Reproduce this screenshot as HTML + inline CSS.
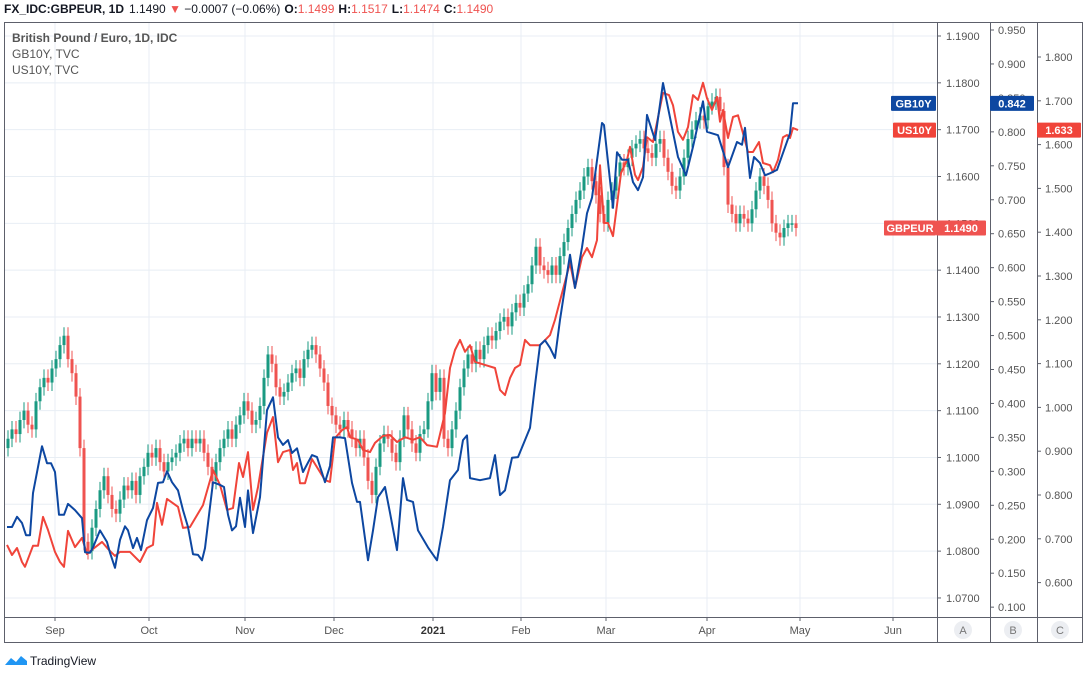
<!DOCTYPE html>
<html><head><meta charset="utf-8"><style>
body{margin:0;background:#fff;font-family:"Liberation Sans",sans-serif;}
svg text{font-family:"Liberation Sans",sans-serif;}
</style></head><body>
<svg id="c" width="1085" height="671" viewBox="0 0 1085 671" xmlns="http://www.w3.org/2000/svg">
<rect x="0" y="0" width="1085" height="671" fill="#fff"/>
<text x="4" y="13" font-size="12" fill="#131722"><tspan font-weight="bold">FX_IDC:GBPEUR, 1D</tspan><tspan dx="5">1.1490</tspan><tspan fill="#ef5350"> ▼ </tspan><tspan>−0.0007 (−0.06%)</tspan><tspan font-weight="bold" dx="4">O:</tspan><tspan fill="#ef5350">1.1499</tspan><tspan font-weight="bold" dx="4">H:</tspan><tspan fill="#ef5350">1.1517</tspan><tspan font-weight="bold" dx="4">L:</tspan><tspan fill="#ef5350">1.1474</tspan><tspan font-weight="bold" dx="4">C:</tspan><tspan fill="#ef5350">1.1490</tspan></text>
<g id="grid"></g>
<g id="marks"></g>
<g id="axes"></g>
<text x="12" y="42" font-size="12" font-weight="bold" fill="#555">British Pound / Euro, 1D, IDC</text>
<text x="12" y="58" font-size="12" fill="#555">GB10Y, TVC</text>
<text x="12" y="74" font-size="12" fill="#555">US10Y, TVC</text>
<g>
<path d="M5 665 l6 -7 l5 4 l5 -6 l6 5 l0 4 z" fill="#2196f3"/>
<text x="30" y="665" font-size="12" fill="#131722">TradingView</text>
</g>
</svg>
<script>
// ---- data ----
const closes=[1.104,1.106,1.105,1.108,1.110,1.107,1.106,1.112,1.115,1.117,1.116,1.119,1.121,1.124,1.126,1.121,1.118,1.113,1.102,1.082,
1.080,1.085,1.089,1.093,1.096,1.092,1.089,1.088,1.091,1.094,1.093,1.095,1.092,1.096,1.098,1.101,1.100,1.102,1.099,1.097,
1.099,1.100,1.101,1.103,1.104,1.102,1.104,1.103,1.104,1.101,1.098,1.095,1.099,1.102,1.104,1.106,1.104,1.107,1.109,1.112,
1.110,1.107,1.108,1.111,1.117,1.122,1.120,1.115,1.113,1.114,1.116,1.118,1.119,1.117,1.121,1.123,1.124,1.122,1.119,1.116,
1.111,1.109,1.107,1.106,1.108,1.106,1.104,1.102,1.104,1.100,1.095,1.092,1.098,1.103,1.105,1.104,1.101,1.099,1.104,1.109,
1.106,1.103,1.101,1.105,1.106,1.112,1.118,1.114,1.117,1.104,1.102,1.106,1.110,1.115,1.119,1.122,1.120,1.123,1.121,1.124,
1.126,1.125,1.127,1.129,1.130,1.128,1.131,1.133,1.132,1.135,1.137,1.141,1.145,1.141,1.140,1.139,1.141,1.139,1.143,1.146,
1.149,1.152,1.155,1.157,1.160,1.162,1.159,1.156,1.152,1.150,1.155,1.157,1.160,1.163,1.162,1.164,1.166,1.167,1.168,1.166,
1.165,1.164,1.167,1.168,1.164,1.161,1.158,1.157,1.160,1.164,1.168,1.170,1.172,1.173,1.172,1.175,1.176,1.177,1.174,1.162,
1.154,1.152,1.150,1.152,1.151,1.150,1.153,1.157,1.160,1.158,1.155,1.150,1.148,1.147,1.149,1.150,1.150,1.149];
const firstOpen=1.102;
const gbDays=[-0.25,1,2.25,3.5,4.5,5.5,6.25,8.5,9.75,10.75,11.75,12.75,14,15,16.75,18.5,19.25,20.5,21.25,23,24.75,25.5,26.75,28,29.25,30,31.25,32.25,33.25,34.75,36.25,37.5,38.75,39.75,41,42.5,43.75,45,46.25,47.5,48.5,49.25,51.25,53,54,55,56,57,58,59.25,60,61.25,63,64.75,66.25,67.5,68.75,70,71,72.25,73.75,76,77.25,79.25,80.5,81.25,83,84.25,86,87.25,88,90,91.25,92.5,94.25,95.5,97.25,98.75,99.75,101.25,102.5,105,107.25,108.75,110.5,112.5,113.75,114.75,115.5,118,120.5,121.75,123,124.25,126,127.5,129.25,130.5,131.75,133,134.25,135.5,136.75,138,140.5,141.75,143.5,144.75,146,148.5,149,151.25,152.25,153.5,155,156.25,157.5,158.75,159.75,161.75,163.75,167.5,169.5,171.25,173.75,174.75,177.5,180,182.25,183.5,184.25,185.5,186.5,188,189.25,190.5,192.25,193.75,195.5,196.25,197.5];
const gbVals=[0.218,0.218,0.233,0.224,0.206,0.206,0.268,0.337,0.312,0.312,0.299,0.236,0.236,0.252,0.243,0.231,0.181,0.180,0.188,0.213,0.196,0.180,0.158,0.199,0.219,0.213,0.187,0.202,0.184,0.228,0.246,0.283,0.284,0.300,0.284,0.272,0.243,0.218,0.178,0.177,0.169,0.187,0.284,0.280,0.277,0.236,0.213,0.219,0.261,0.218,0.272,0.209,0.262,0.390,0.409,0.350,0.339,0.346,0.327,0.334,0.299,0.324,0.321,0.284,0.308,0.350,0.350,0.349,0.283,0.255,0.255,0.169,0.213,0.262,0.277,0.239,0.184,0.290,0.258,0.255,0.213,0.188,0.169,0.218,0.287,0.302,0.346,0.353,0.290,0.287,0.290,0.324,0.265,0.272,0.320,0.321,0.346,0.364,0.427,0.486,0.493,0.482,0.467,0.523,0.619,0.570,0.630,0.680,0.703,0.813,0.810,0.688,0.770,0.759,0.759,0.726,0.714,0.733,0.825,0.788,0.872,0.763,0.736,0.778,0.845,0.800,0.795,0.748,0.785,0.781,0.806,0.732,0.763,0.754,0.736,0.739,0.744,0.769,0.798,0.842,0.842];
const usDays=[-0.25,1,2.25,3.5,4.25,6.25,7.5,8.75,10,11.75,13,14,15,16.75,18.5,19.75,21.25,23.5,25,26.75,28,30.5,33,34.75,36.25,37.25,38.5,39.75,42.5,43.75,45.5,48.75,51.25,53,54.75,56.25,57.75,58.75,60,61.25,62.5,64.75,66.25,67.5,68.75,70.5,71.25,72.25,73,74.25,76,79.25,80.5,81.75,83.5,84.75,85.5,87.5,88.75,90.5,91.75,93.75,95.5,97.25,99.25,101.25,103,104.75,107.25,109.25,110.5,111.75,113,114.25,115.5,116.75,119.25,121.75,123,124.25,125.5,126.75,128,129.25,130.5,133,135.5,136.75,140.5,141.75,143.5,144.75,146,147.25,148,149,150,151.25,152.25,153.25,154.75,155.5,156.75,157.5,158.75,159.75,161.25,163.75,165.25,166.25,167.5,168.75,170,171.25,172.5,173.75,174.75,176,177.25,178,178.75,180,181.25,182.5,183.75,185,186.25,187.75,188.75,190.5,191.25,192.5,193.75,194.75,195.5,196.25,197.5];
const usVals=[0.686,0.663,0.679,0.647,0.636,0.684,0.684,0.750,0.720,0.670,0.647,0.636,0.718,0.681,0.702,0.665,0.677,0.693,0.677,0.661,0.670,0.670,0.647,0.679,0.686,0.782,0.732,0.791,0.773,0.725,0.727,0.777,0.857,0.823,0.766,0.770,0.873,0.841,0.898,0.766,0.818,0.942,0.978,0.875,0.898,0.903,0.857,0.873,0.827,0.827,0.882,0.834,0.830,0.930,0.948,0.955,0.932,0.926,0.903,0.898,0.919,0.935,0.937,0.921,0.932,0.926,0.932,0.914,0.910,0.987,1.090,1.131,1.154,1.127,1.142,1.104,1.097,1.090,1.040,1.028,1.067,1.090,1.097,1.154,1.142,1.142,1.165,1.200,1.330,1.273,1.343,1.364,1.343,1.382,1.553,1.421,1.421,1.391,1.462,1.535,1.565,1.595,1.531,1.519,1.549,1.617,1.606,1.718,1.713,1.690,1.629,1.611,1.640,1.713,1.702,1.741,1.706,1.679,1.709,1.652,1.679,1.615,1.663,1.667,1.626,1.583,1.583,1.606,1.558,1.553,1.537,1.565,1.617,1.622,1.615,1.638,1.633];
const monthLabels=["Sep","Oct","Nov","Dec","2021","Feb","Mar","Apr","May","Jun"];
const monthDays=[11.75,35.25,59.25,81.5,106.25,128.25,149.5,174.75,198,221.25];
const ticksA=[1.19,1.18,1.17,1.16,1.15,1.14,1.13,1.12,1.11,1.10,1.09,1.08,1.07];
const ticksB=[0.95,0.90,0.85,0.80,0.75,0.70,0.65,0.60,0.55,0.50,0.45,0.40,0.35,0.30,0.25,0.20,0.15,0.10];
const ticksC=[1.8,1.7,1.6,1.5,1.4,1.3,1.2,1.1,1.0,0.9,0.8,0.7,0.6];
// ---- scales ----
const xS=d=>8+d*4;
const yA=v=>36+(1.19-v)*4683;
const yB=v=>30+(0.95-v)*679;
const yC=v=>57+(1.8-v)*438;
const NS="http://www.w3.org/2000/svg";
function mk(tag,attrs,parent){const e=document.createElementNS(NS,tag);for(const k in attrs)e.setAttribute(k,attrs[k]);parent.appendChild(e);return e;}
const grid=document.getElementById('grid'),marks=document.getElementById('marks'),axes=document.getElementById('axes');
ticksA.forEach(v=>{const l=mk('line',{x1:4,x2:937,y1:yA(v),y2:yA(v),stroke:'#e8eef4','stroke-width':1},grid);

});
monthDays.forEach(d=>{const l=mk('line',{x1:xS(d),x2:xS(d),y1:22,y2:617,stroke:'#e8eef4','stroke-width':1},grid);

});
const G='#1a9a82',R='#ef5350';
closes.forEach((c,i)=>{const o=i===0?firstOpen:closes[i-1];const col=c>=o?G:R;const x=xS(i);
const hi=Math.max(o,c)+0.0018,lo=Math.min(o,c)-0.0018;
const g=mk('g',{},marks);


mk('line',{x1:x,x2:x,y1:yA(hi),y2:yA(lo),stroke:col,'stroke-width':1},g);
const t=Math.min(yA(o),yA(c));mk('rect',{x:x-1.5,y:t,width:3,height:Math.max(1.5,Math.abs(yA(o)-yA(c))),fill:col},g);});
function line(days,vals,ys,col,name){const p=days.map((d,i)=>(i?'L':'M')+xS(d).toFixed(1)+' '+ys(vals[i]).toFixed(1)).join(' ');
const e=mk('path',{d:p,fill:'none',stroke:col,'stroke-width':2,'stroke-linejoin':'round'},marks);

}
line(usDays,usVals,yC,'#f0443a','us10y-line');
line(gbDays,gbVals,yB,'#0d47a1','gb10y-line');
mk('rect',{x:4.5,y:22.5,width:1078,height:620,fill:'none',stroke:'#5d606b'},axes);
[937.5,990.5,1037.5].forEach(x=>mk('line',{x1:x,x2:x,y1:22,y2:643,stroke:'#5d606b'},axes));
mk('line',{x1:4,x2:1083,y1:617.5,y2:617.5,stroke:'#5d606b'},axes);
ticksA.forEach(v=>{const y=yA(v);mk('line',{x1:937,x2:941,y1:y,y2:y,stroke:'#5d606b'},axes);
const t=mk('text',{x:946,y:y+4,'font-size':11,fill:'#555'},axes);t.textContent=v.toFixed(4);

});
ticksB.forEach(v=>{const y=yB(v);mk('line',{x1:990,x2:994,y1:y,y2:y,stroke:'#5d606b'},axes);
const t=mk('text',{x:998,y:y+4,'font-size':11,fill:'#555'},axes);t.textContent=v.toFixed(3);

});
ticksC.forEach(v=>{const y=yC(v);mk('line',{x1:1037,x2:1041,y1:y,y2:y,stroke:'#5d606b'},axes);
const t=mk('text',{x:1045,y:y+4,'font-size':11,fill:'#555'},axes);t.textContent=v.toFixed(3);

});
monthLabels.forEach((m,i)=>{const x=xS(monthDays[i]);mk('line',{x1:x,x2:x,y1:617,y2:621,stroke:'#5d606b'},axes);
const t=mk('text',{x:x,y:634,'font-size':11,fill:m==='2021'?'#333':'#555','font-weight':m==='2021'?'bold':'normal','text-anchor':'middle'},axes);t.textContent=m;

});
[['A',963],['B',1013],['C',1060]].forEach(([l,x])=>{const g=mk('g',{},axes);


mk('circle',{cx:x,cy:630,r:9,fill:'#eceef2'},g);const t=mk('text',{x:x,y:634,'font-size':11,fill:'#777','text-anchor':'middle'},g);t.textContent=l;});
function tag(x,y,w,txt,col,name){const g=mk('g',{},axes);


mk('rect',{x:x,y:y-7.5,width:w,height:15,fill:col,rx:1},g);
const t=mk('text',{x:x+w/2,y:y+4,'font-size':11,'font-weight':'bold',fill:'#fff','text-anchor':'middle'},g);t.textContent=txt;}
const lastGB=gbVals[gbVals.length-1],lastUS=usVals[usVals.length-1],lastC=closes[closes.length-1];
tag(891,yB(lastGB),45,'GB10Y','#0d47a1','gb10y-name-tag');
tag(990,yB(lastGB),44,lastGB.toFixed(3),'#0d47a1','gb10y-price-tag');
tag(893,yC(lastUS),43,'US10Y','#f0443a','us10y-name-tag');
tag(1037,yC(lastUS),44,lastUS.toFixed(3),'#f0443a','us10y-price-tag');
tag(884,yA(lastC),52,'GBPEUR','#ef5350','gbpeur-name-tag');
tag(936,yA(lastC),50,lastC.toFixed(4),'#ef5350','gbpeur-price-tag');
</script>
</body></html>
